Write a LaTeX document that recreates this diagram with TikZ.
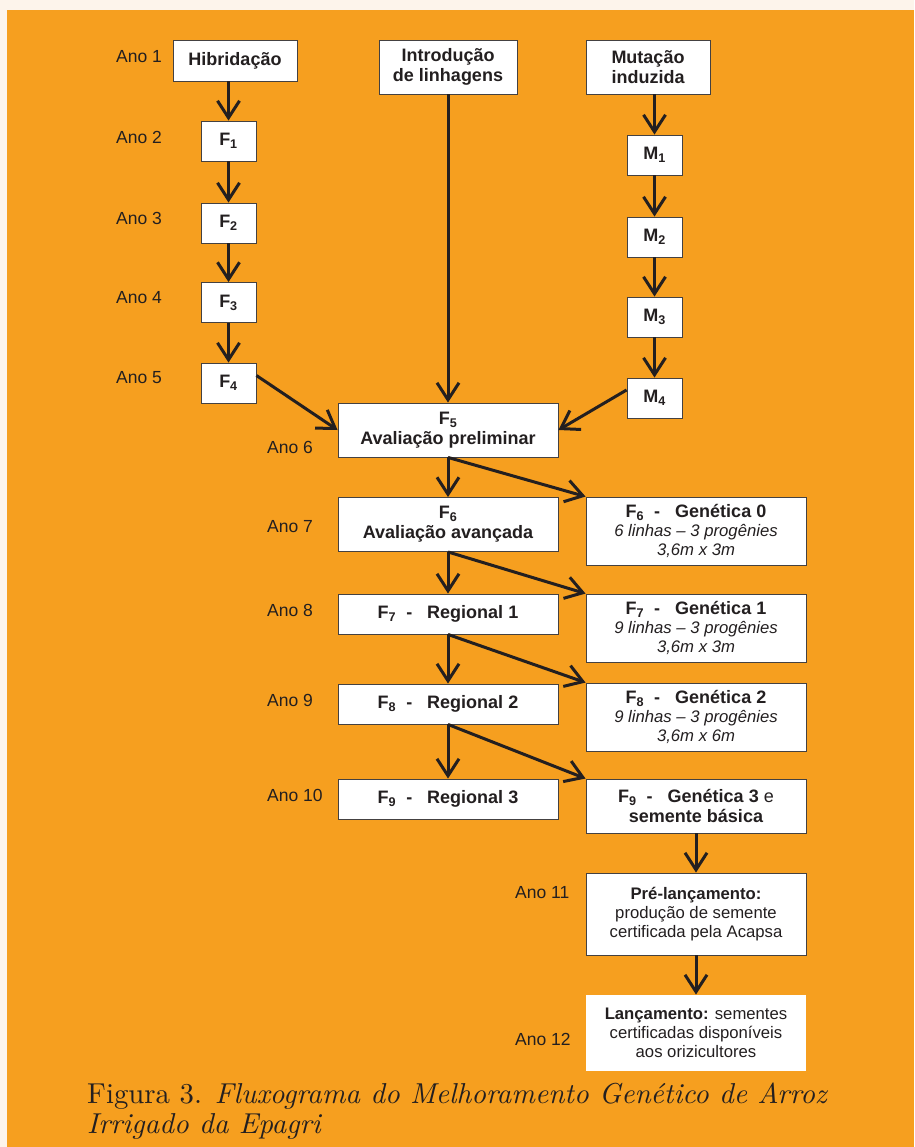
\documentclass[tikz,border=0pt]{standalone}
\usepackage{fontspec}
\setsansfont{Liberation Sans}
\newfontfamily\legenda{lmroman10-regular.otf}[ItalicFont=lmroman10-italic.otf]
\usetikzlibrary{arrows.meta}
\definecolor{paper}{HTML}{FDF4EB}
\definecolor{laranja}{HTML}{F69F1F}
\definecolor{ink}{HTML}{231F20}
\newcommand{\miudo}{\sffamily\mdseries\fontsize{16.7}{19}\selectfont}
\begin{document}
\begin{tikzpicture}[
    x=1pt, y=-1pt,
    stage/.style={draw=ink!85, fill=white, line width=0.9pt, align=center, inner sep=0pt, text=ink,
      font=\sffamily\bfseries\fontsize{18}{20}\selectfont},
    gen/.style={stage, minimum width=55pt, minimum height=40pt},
    wide/.style={stage, minimum width=220pt},
    note/.style={font=\miudo},
    ano/.style={anchor=west, inner sep=0pt, text=ink, font=\sffamily\fontsize{17.5}{20}\selectfont},
    arr/.style={draw=ink, line width=3pt, -{Straight Barb[length=17pt,width=22pt]}},
    caption/.style={anchor=base west, inner sep=0pt, text=ink, font=\legenda\fontsize{28.8}{30}\selectfont},
]
\fill[paper] (0,0) rectangle (914,1147);
\fill[laranja] (7,10) rectangle (914,1147);
\useasboundingbox (0,0) rectangle (914,1147);

% origens
\node[stage, minimum width=124pt, minimum height=41pt] (hib) at (235,60.5) {Hibridação};
\node[stage, minimum width=138pt, minimum height=54pt] (intro) at (448,67) {Introdução\\de linhagens};
\node[stage, minimum width=124pt, minimum height=54pt] (mut) at (648,67) {Mutação\\induzida};

\foreach \i/\y in {1/141, 2/223, 3/302.5, 4/383} {
  \node[gen] (f\i) at (228.5,\y) {F\textsubscript{\i}};
}
\foreach \i/\y in {1/155, 2/237, 3/317, 4/398} {
  \node[gen] (m\i) at (654.5,\y) {M\textsubscript{\i}};
}

% avaliacoes
\node[wide, minimum height=54pt] (f5) at (448,430) {F\textsubscript{5}\\Avaliação preliminar};
\node[wide, minimum height=54pt] (f6) at (448,524.5) {F\textsubscript{6}\\Avaliação avançada};
\node[wide, minimum height=40pt] (f7) at (448,614) {F\textsubscript{7}\ \ -\ \ \ Regional 1};
\node[wide, minimum height=40pt] (f8) at (448,704) {F\textsubscript{8}\ \ -\ \ \ Regional 2};
\node[wide, minimum height=40pt] (f9) at (448,799) {F\textsubscript{9}\ \ -\ \ \ Regional 3};

\node[wide, minimum height=68pt] (g0) at (696,531) {F\textsubscript{6}\ \ -\ \ \ Genética 0\\[-1pt]
  {\miudo\itshape 6 linhas -- 3 progênies}\\[-1pt]{\miudo\itshape 3,6m x 3m}};
\node[wide, minimum height=68pt] (g1) at (696,628) {F\textsubscript{7}\ \ -\ \ \ Genética 1\\[-1pt]
  {\miudo\itshape 9 linhas -- 3 progênies}\\[-1pt]{\miudo\itshape 3,6m x 3m}};
\node[wide, minimum height=68pt] (g2) at (696,717) {F\textsubscript{8}\ \ -\ \ \ Genética 2\\[-1pt]
  {\miudo\itshape 9 linhas -- 3 progênies}\\[-1pt]{\miudo\itshape 3,6m x 6m}};
\node[wide, minimum height=54pt] (g3) at (696,806) {F\textsubscript{9}\ \ -\ \ \ Genética 3 {\mdseries e}\\semente básica};

\node[wide, minimum height=82pt, note] (pre) at (696,914)
  {{\bfseries Pré-lançamento:}\\produção de semente\\certificada pela Acapsa};
\node[wide, draw=none, minimum height=76pt, note] (lanc) at (696,1033)
  {{\bfseries Lançamento:} sementes\\certificadas disponíveis\\aos orizicultores};

\foreach \n/\x/\y in {1/116/57, 2/116/137, 3/116/218, 4/116/298, 5/116/378,
    6/267/447, 7/267/527, 8/267/610, 9/267/700, 10/267/795, 11/515/893, 12/515/1039} {
  \node[ano] (ano\n) at (\x,\y) {Ano \n};
}

% setas
\draw[arr] (f1 |- hib.south) -- (f1.north);
\draw[arr] (m1 |- mut.south) -- (m1.north);
\foreach \i/\j in {1/2, 2/3, 3/4} {
  \draw[arr] (f\i) -- (f\j);
  \draw[arr] (m\i) -- (m\j);
}
\draw[arr] (intro.south) -- (f5.north);
\draw[arr] (f4.15) -- (f5.west);
\draw[arr] (m4.164) -- (f5.east);
\draw[arr] (f5.south) -- (f6.north);
\draw[arr] (f5.south) -- (g0.north west);
\draw[arr] (f6.south) -- (f7.north);
\draw[arr] (f6.south) -- (g1.north west);
\draw[arr] (f7.south) -- (f8.north);
\draw[arr] (f7.south) -- (g2.north west);
\draw[arr] (f8.south) -- (f9.north);
\draw[arr] (f8.south) -- (g3.north west);
\draw[arr] (g3.south) -- (pre.north);
\draw[arr] (pre.south) -- (lanc.north);

\node[caption] (cap1) at (87,1103) {Figura 3. \textit{Fluxograma do Melhoramento Genético de Arroz}};
\node[caption] (cap2) at (87,1133) {\textit{Irrigado da Epagri}};
\end{tikzpicture}
\end{document}
